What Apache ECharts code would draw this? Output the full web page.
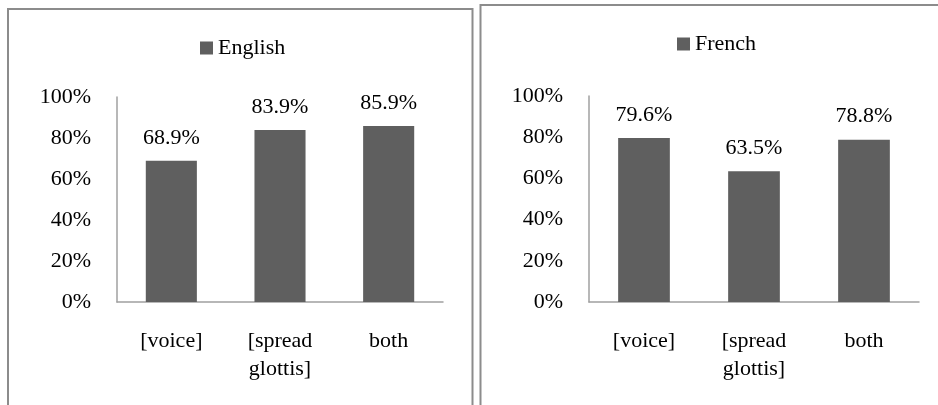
<!DOCTYPE html>
<html>
<head>
<meta charset="utf-8">
<script src="https://cdn.jsdelivr.net/npm/echarts@6/dist/echarts.min.js"></script>
<style>
html, body { margin: 0; padding: 0; background: #fff; overflow: hidden; }
#chart { width: 938px; height: 405px; }
</style>
</head>
<body>
<div id="chart"></div>
<script>
var categories = ['[voice]', '[spread\nglottis]', 'both'];
var english_values = [68.9, 83.9, 85.9];
var french_values = [79.6, 63.5, 78.8];
var y_ticks = [0, 20, 40, 60, 80, 100];

var font = "'Liberation Serif', 'Times New Roman', serif";
var font_size = 22;
var bar_color = '#5f5f5f';
var frame_color = '#8c8c8c';

function make_x(index){
	return {
		type: 'category',
		gridIndex: index,
		data: categories,
		axisLine: {lineStyle: {color: '#a0a0a0', width: 1.5}},
		axisTick: {show: false},
		axisLabel: {
			interval: 0,
			margin: 25,
			fontFamily: font,
			fontSize: font_size,
			lineHeight: 28,
			color: '#000'
		}
	};
}

function make_y(index){
	return {
		type: 'value',
		gridIndex: index,
		min: y_ticks[0],
		max: y_ticks[y_ticks.length - 1],
		interval: 20,
		splitLine: {show: false},
		axisTick: {show: false},
		axisLine: {show: true, lineStyle: {color: '#a0a0a0', width: 1.5}},
		axisLabel: {
			margin: 26,
			fontFamily: font,
			fontSize: font_size,
			color: '#000',
			formatter: '{value}%'
		}
	};
}

function make_series(name, values, index){
	return {
		name: name,
		type: 'bar',
		xAxisIndex: index,
		yAxisIndex: index,
		data: values,
		barWidth: '47%',
		itemStyle: {color: bar_color},
		label: {
			show: true,
			position: 'top',
			distance: 12,
			fontFamily: font,
			fontSize: font_size,
			color: '#000',
			formatter: function(p){ return p.value.toFixed(1) + '%'; }
		}
	};
}

var my_chart = echarts.init(document.getElementById('chart'));
my_chart.setOption({
	animation: false,
	legend: [
		{
			data: ['English'],
			left: 195,
			top: 32,
			itemWidth: 13,
			itemHeight: 13,
			icon: 'rect',
			textStyle: {fontFamily: font, fontSize: font_size, color: '#000'}
		},
		{
			data: ['French'],
			left: 672,
			top: 28,
			itemWidth: 13,
			itemHeight: 13,
			icon: 'rect',
			textStyle: {fontFamily: font, fontSize: font_size, color: '#000'}
		}
	],
	grid: [
		{left: 117, top: 97, width: 326, height: 205},
		{left: 589, top: 96, width: 330, height: 206}
	],
	xAxis: [make_x(0), make_x(1)],
	yAxis: [make_y(0), make_y(1)],
	series: [
		make_series('English', english_values, 0),
		make_series('French', french_values, 1)
	],
	graphic: [
		{
			type: 'polyline',
			shape: {points: [[8, 410], [8, 9], [472.5, 9], [472.5, 410]]},
			style: {stroke: frame_color, lineWidth: 2, fill: null}
		},
		{
			type: 'polyline',
			shape: {points: [[480.5, 410], [480.5, 5], [945, 5]]},
			style: {stroke: frame_color, lineWidth: 2, fill: null}
		}
	]
});
</script>
</body>
</html>
